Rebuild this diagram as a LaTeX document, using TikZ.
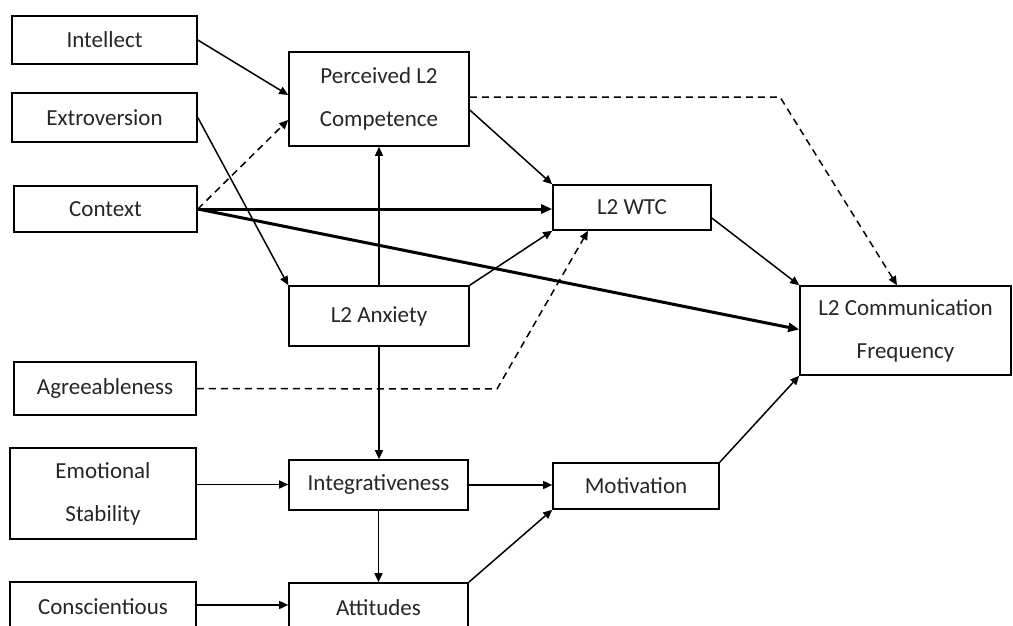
\documentclass[tikz,border=0pt]{standalone}
\usepackage{fontspec}
\setmainfont{Carlito}
\usetikzlibrary{arrows.meta,calc}
\begin{document}
\begin{tikzpicture}[x=1pt,y=-1pt,
  box/.style={draw,line width=1.6pt,rectangle,inner sep=0pt,align=center,
    font=\fontsize{23}{43}\selectfont,text=black!85},
  link/.style={line width=1.5pt,-{Triangle[length=9pt,width=8pt]}},
  strong/.style={line width=3pt,-{Triangle[length=11pt,width=9pt]}},
  weak/.style={line width=1.5pt,dash pattern=on 7pt off 5pt,-{Triangle[length=9pt,width=8pt]}}]
\useasboundingbox (0,0) rectangle (1013,625);
% left column
\node[box,minimum width=185pt,minimum height=48pt] (intel) at (104.5,40) {Intellect};
\node[box,minimum width=185pt,minimum height=49pt] (extro) at (104.5,117.5) {Extroversion};
\node[box,minimum width=183pt,minimum height=46pt] (context) at (105.5,209) {Context};
\node[box,minimum width=182pt,minimum height=53pt] (agree) at (105,388.5) {Agreeableness};
\node[box,minimum width=186pt,minimum height=91pt] (emo) at (103,493.5) {Emotional\\Stability};
\node[box,minimum width=186pt,minimum height=50pt] (consc) at (103,607) {Conscientious};
% middle column
\node[box,minimum width=180pt,minimum height=94pt] (perc) at (379,99) {Perceived L2\\Competence};
\node[box,minimum width=180pt,minimum height=60pt] (anx) at (379,316) {L2 Anxiety};
\node[box,minimum width=179pt,minimum height=50pt] (integ) at (378.5,485) {Integrativeness};
\node[box,minimum width=179pt,minimum height=50pt] (att) at (378.5,608) {Attitudes};
% right column
\node[box,minimum width=158pt,minimum height=45pt] (wtc) at (632,207.5) {L2 WTC};
\node[box,minimum width=166pt,minimum height=46pt] (mot) at (636,486) {Motivation};
\node[box,minimum width=211pt,minimum height=89pt] (comm) at (905.5,330.5) {L2 Communication\\Frequency};
% bend points of dashed paths
\coordinate (pbend) at (780,97);
\coordinate (abend) at (497,389);
% connectors
\draw[link] (intel.east) -- ([yshift=4pt]perc.west);
\draw[link] (extro.east) -- (anx.north west);
\draw[weak] (context.east) -- ([yshift=-21pt]perc.west);
\draw[strong] (context.east) -- (context.east -| wtc.west);
\draw[strong] (context.east) -- ([yshift=1pt]comm.west);
\draw[link] (anx.north) -- (perc.south);
\draw[link] (anx.north east) -- (wtc.south west);
\draw[link] ([yshift=-11pt]perc.east) -- (wtc.north west);
\draw[weak] ([yshift=2pt]perc.east) -- (pbend) -- ([xshift=-8.5pt]comm.north);
\draw[link] ([yshift=-10.5pt]wtc.east) -- (comm.north west);
\draw[link] (mot.north east) -- (comm.south west);
\draw[weak] (agree.east) -- (abend) -- ([xshift=-44pt]wtc.south);
\draw[link] (anx.south) -- (anx.south |- integ.north);
\draw[link] ([yshift=9pt]emo.east) -- ([yshift=9pt]emo.east -| integ.west);
\draw[link] (integ.east) -- (integ.east -| mot.west);
\draw[link] (integ.south) -- (att.north);
\draw[link] ([yshift=2pt]consc.east) -- ([yshift=2pt]consc.east -| att.west);
\draw[link] (att.north east) -- (mot.south west);
\end{tikzpicture}
\end{document}
